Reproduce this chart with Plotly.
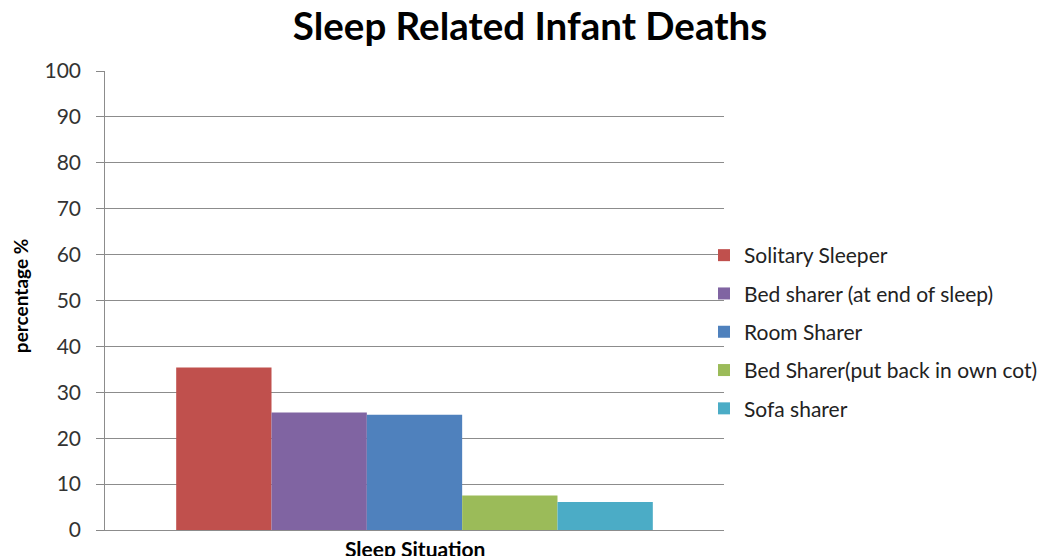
import plotly.graph_objects as go

categories = ["Sleep Situation"]
series_names = ["Solitary Sleeper", "Bed sharer (at end of sleep)", "Room Sharer",
                "Bed Sharer(put back in own cot)", "Sofa sharer"]
series_values = [35.4, 25.6, 25.1, 7.5, 6.1]
colors = ["#C0504D", "#8064A2", "#4F81BD", "#9BBB59", "#4BACC6"]
y_ticks = [0, 10, 20, 30, 40, 50, 60, 70, 80, 90, 100]
y_tick_labels = [str(v) for v in y_ticks]

FONT = "Lato"
# the page body has an 8px default margin, so positions are shifted by -8
OFF = 8
L, T, PW, PH = 105 - OFF, 71 - OFF, 620, 459

fig = go.Figure()
for i, (name, val, col) in enumerate(zip(series_names, series_values, colors)):
    fig.add_trace(go.Bar(
        x=categories, y=[val], name=name, legendgroup=f"g{i}",
        marker=dict(color=col, line=dict(width=0)),
    ))

fig.update_layout(
    width=1046, height=556,
    paper_bgcolor="white", plot_bgcolor="white",
    barmode="group", bargap=0.23, bargroupgap=0,
    margin=dict(l=L, r=1046 - L - PW, t=T, b=556 - T - PH),
    font=dict(family=FONT, color="#333333"),
    title=dict(text="<b>Sleep Related Infant Deaths</b>", x=(530 - OFF) / 1046, xanchor="center",
               y=1 - (27 - OFF) / 556, yanchor="middle",
               font=dict(family=FONT, size=38.5, color="black")),
    legend=dict(x=(704 - OFF - L) / PW, xanchor="left", y=1 - (332 - OFF - T) / PH, yanchor="middle",
                font=dict(family=FONT, size=21, color="#222222"),
                tracegroupgap=8, itemwidth=30, bgcolor="rgba(0,0,0,0)"),
    showlegend=True,
    annotations=[
        dict(text="<b>percentage %</b>", textangle=-90, xref="paper", yref="paper",
             x=-(L - (20 - OFF)) / PW, y=1 - (296 - OFF - T) / PH, xanchor="center", yanchor="middle",
             showarrow=False, font=dict(family=FONT, size=19, color="black")),
        dict(text="<b>Sleep Situation</b>", xref="paper", yref="paper",
             x=(415 - OFF - L) / PW, y=0, xanchor="center", yanchor="middle", yshift=-18,
             showarrow=False, font=dict(family=FONT, size=21, color="black")),
    ],
)
fig.update_yaxes(
    range=[0, 100], tickvals=y_ticks, ticktext=[t + "\u00a0\u00a0" for t in y_tick_labels],
    ticks="outside", ticklen=8, tickcolor="#888888",
    showgrid=True, gridcolor="#8c8c8c", gridwidth=1,
    showline=True, linecolor="#8c8c8c", linewidth=1,
    tickfont=dict(family=FONT, size=21, color="#333333"),
    automargin=False, zeroline=False,
)
fig.update_xaxes(
    showticklabels=False, ticks="",
    showline=True, linecolor="#8c8c8c", linewidth=1,
    automargin=False,
)

fig.write_html("out.html", config={"displayModeBar": False})
